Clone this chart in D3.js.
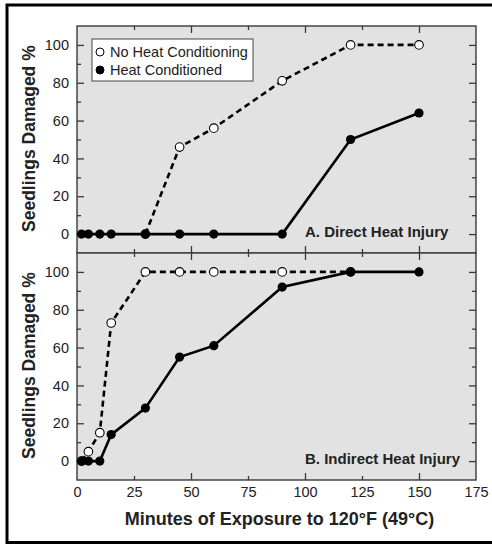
<!DOCTYPE html>
<html>
<head>
<meta charset="utf-8">
<script src="https://cdn.jsdelivr.net/npm/d3@7"></script>
<style>
  html, body { margin: 0; padding: 0; background: #fff; }
  svg { display: block; }
  text { font-family: "Liberation Sans", Arial, Helvetica, sans-serif; }
</style>
</head>
<body>
<svg id="chart" width="492" height="544"></svg>
<script>
// ---- Data ----
const xTickLabels = [0, 25, 50, 75, 100, 125, 150, 175];
const xMajorTicks = [50, 100, 150];
const xMinorTicks = [25, 75, 125];
const yTickLabels = [0, 20, 40, 60, 80, 100];
const yMinorTicks = [10, 30, 50, 70, 90];

const seriesNames = ["No Heat Conditioning", "Heat Conditioned"];

// Panel A: Direct Heat Injury
const aNoHeatMinutes = [30, 45, 60, 90, 120, 150];
const aNoHeatValues  = [0, 46, 56, 81, 100, 100];
const aHeatMinutes   = [2, 5, 10, 15, 30, 45, 60, 90, 120, 150];
const aHeatValues    = [0, 0, 0, 0, 0, 0, 0, 0, 50, 64];

// Panel B: Indirect Heat Injury
const bNoHeatMinutes = [2, 5, 10, 15, 30, 45, 60, 90, 120];
const bNoHeatValues  = [0, 5, 15, 73, 100, 100, 100, 100, 100];
const bHeatMinutes   = [2, 5, 10, 15, 30, 45, 60, 90, 120, 150];
const bHeatValues    = [0, 0, 0, 14, 28, 55, 61, 92, 100, 100];

const panelLabels = ["A. Direct Heat Injury", "B. Indirect Heat Injury"];
const yTitle = "Seedlings Damaged %";
const xTitle = "Minutes of Exposure to 120\u00B0F (49\u00B0C)";

// ---- Layout ----
const svg = d3.select("#chart");
const left = 77, right = 476;
const panels = [
  { top: 26, bottom: 253, label: panelLabels[0],
    open: aNoHeatMinutes.map((m, i) => [m, aNoHeatValues[i]]),
    filled: aHeatMinutes.map((m, i) => [m, aHeatValues[i]]), legend: true },
  { top: 253, bottom: 480, label: panelLabels[1],
    open: bNoHeatMinutes.map((m, i) => [m, bNoHeatValues[i]]),
    filled: bHeatMinutes.map((m, i) => [m, bHeatValues[i]]), legend: false }
];

const x = d3.scaleLinear().domain([0, 175]).range([left, right]);

// outer frame
svg.append("rect")
  .attr("x", 7).attr("y", 5).attr("width", 500).attr("height", 537.5)
  .attr("fill", "none").attr("stroke", "#000").attr("stroke-width", 3);

const frameColor = "#3a3a3a";
const textColor = "#222";

function styleAxis(g) {
  g.select(".domain").remove();
  g.selectAll(".tick line").attr("stroke", frameColor).attr("stroke-width", 1.3);
  g.selectAll(".tick text").attr("fill", textColor).style("font-size", "14.5px")
    .style("font-family", "'Liberation Sans', Arial, sans-serif");
}

panels.forEach((p) => {
  const y = d3.scaleLinear().domain([-10, 110]).range([p.bottom, p.top]);
  const g = svg.append("g");

  g.append("rect")
    .attr("x", left).attr("y", p.top)
    .attr("width", right - left).attr("height", p.bottom - p.top)
    .attr("fill", "#e2e2e2").attr("stroke", frameColor).attr("stroke-width", 1.4);

  // x ticks, inward on top and bottom
  [[xMajorTicks, 7], [xMinorTicks, 4]].forEach(([vals, len]) => {
    g.append("g").attr("transform", `translate(0,${p.bottom})`)
      .call(d3.axisBottom(x).tickValues(vals).tickSize(-len).tickFormat(""))
      .call(styleAxis);
    g.append("g").attr("transform", `translate(0,${p.top})`)
      .call(d3.axisTop(x).tickValues(vals).tickSize(-len).tickFormat(""))
      .call(styleAxis);
  });

  // y ticks, inward on left and right; labels on left
  g.append("g").attr("transform", `translate(${left},0)`)
    .call(d3.axisLeft(y).tickValues(yTickLabels).tickSize(-7).tickPadding(8).tickFormat(d3.format("d")))
    .call(styleAxis);
  g.append("g").attr("transform", `translate(${left},0)`)
    .call(d3.axisLeft(y).tickValues(yMinorTicks).tickSize(-4).tickFormat(""))
    .call(styleAxis);
  g.append("g").attr("transform", `translate(${right},0)`)
    .call(d3.axisRight(y).tickValues(yTickLabels).tickSize(-7).tickFormat(""))
    .call(styleAxis);
  g.append("g").attr("transform", `translate(${right},0)`)
    .call(d3.axisRight(y).tickValues(yMinorTicks).tickSize(-4).tickFormat(""))
    .call(styleAxis);

  // y title
  svg.append("text")
    .attr("transform", `translate(35,${p.bottom - 21}) rotate(-90)`)
    .attr("text-anchor", "start")
    .attr("font-weight", "bold").attr("font-size", "17.5px").attr("fill", textColor)
    .text(yTitle);

  // panel label
  g.append("text")
    .attr("x", 305).attr("y", p.bottom - 16)
    .attr("font-weight", "bold").attr("font-size", "15px").attr("fill", textColor)
    .text(p.label);

  const line = d3.line().x(d => x(d[0])).y(d => y(d[1]));

  // open series (dashed)
  g.append("path").datum(p.open).attr("d", line)
    .attr("fill", "none").attr("stroke", "#000").attr("stroke-width", 2.6)
    .attr("stroke-dasharray", "6,4");
  g.selectAll("circle.open").data(p.open).join("circle").attr("class", "open")
    .attr("cx", d => x(d[0])).attr("cy", d => y(d[1])).attr("r", 4.3)
    .attr("fill", "#fff").attr("stroke", "#000").attr("stroke-width", 1.1);

  // filled series (solid)
  g.append("path").datum(p.filled).attr("d", line)
    .attr("fill", "none").attr("stroke", "#000").attr("stroke-width", 2.6);
  g.selectAll("circle.filled").data(p.filled).join("circle").attr("class", "filled")
    .attr("cx", d => x(d[0])).attr("cy", d => y(d[1])).attr("r", 4.6)
    .attr("fill", "#000");

  if (p.legend) {
    const lg = g.append("g");
    lg.append("rect").attr("x", 92).attr("y", 39).attr("width", 161).attr("height", 42)
      .attr("fill", "#fff").attr("stroke", "#444").attr("stroke-width", 1);
    seriesNames.forEach((name, i) => {
      const cy = 52 + i * 18;
      lg.append("circle").attr("cx", 100).attr("cy", cy).attr("r", 4)
        .attr("fill", i === 0 ? "#fff" : "#000").attr("stroke", "#000").attr("stroke-width", 1);
      lg.append("text").attr("x", 110).attr("y", cy + 5.3)
        .attr("font-size", "14.5px").attr("fill", textColor).text(name);
    });
  }
});

// x tick labels
svg.append("g").attr("transform", `translate(0,480)`)
  .call(d3.axisBottom(x).tickValues(xTickLabels).tickSize(0).tickPadding(7))
  .call(styleAxis);

// x title
svg.append("text")
  .attr("x", 279.5).attr("y", 525)
  .attr("text-anchor", "middle")
  .attr("font-weight", "bold").attr("font-size", "18px").attr("fill", textColor)
  .text(xTitle);
</script>
</body>
</html>
